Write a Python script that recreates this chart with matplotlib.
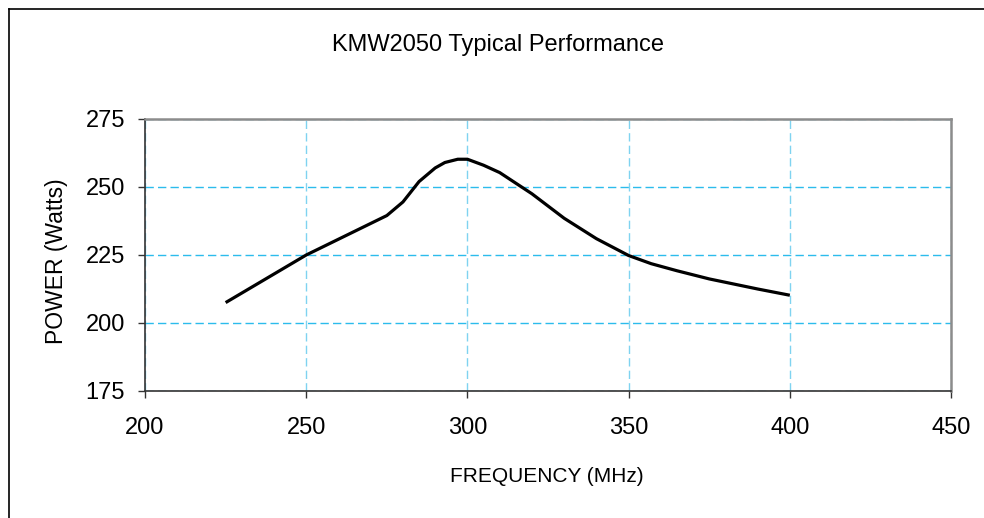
import matplotlib.pyplot as plt
from matplotlib.lines import Line2D

# frequency (MHz) and power (Watts)
freq = [225, 250, 275, 280, 285, 290, 293, 297, 300, 305, 310, 320, 330,
        340, 350, 357, 365, 375, 390, 400]
power = [207.5, 225, 239.5, 244.5, 252, 257, 259, 260.2, 260.2, 258, 255.3,
         247.5, 238.5, 231, 224.8, 221.8, 219.2, 216.2, 212.5, 210.2]

x_ticks = [200, 250, 300, 350, 400, 450]
y_ticks = [175, 200, 225, 250, 275]

label_font = ['Liberation Sans', 'DejaVu Sans']

fig = plt.figure(figsize=(9.84, 5.18), dpi=100)
ax = fig.add_axes([0.1474, 0.2452, 0.8191, 0.5251])

ax.plot(freq, power, color='black', lw=2.3, solid_capstyle='butt')

ax.set_xlim(200, 450)
ax.set_ylim(175, 275)
ax.set_xticks(x_ticks)
ax.set_yticks(y_ticks)
ax.tick_params(labelsize=17, direction='out', length=5, width=1, color='#333333')
ax.tick_params(axis='x', pad=14)
ax.tick_params(axis='y', pad=9.5)
for lab in ax.get_xticklabels() + ax.get_yticklabels():
    lab.set_family('Liberation Sans')

# dashed grid, horizontal lines stronger than the vertical ones
ax.yaxis.grid(True, color='#2CBCEC', lw=1.0, ls=(0, (6, 3)))
ax.xaxis.grid(True, color='#7FD3F0', lw=1.0, ls=(0, (6, 3)))

ax.spines['left'].set_color('#333333')
ax.spines['bottom'].set_color('#333333')
ax.spines['left'].set_linewidth(1.2)
ax.spines['bottom'].set_linewidth(1.2)
ax.spines['top'].set_color('#8C8C8C')
ax.spines['right'].set_color('#8C8C8C')
ax.spines['top'].set_linewidth(1.8)
ax.spines['right'].set_linewidth(1.8)

fig.text(498 / 984, 1 - 45 / 518, 'KMW2050 Typical Performance', ha='center',
         va='center', fontsize=17, family=label_font)
fig.text(547 / 984, 1 - 477 / 518, 'FREQUENCY (MHz)', ha='center', va='center',
         fontsize=15, family=label_font)
fig.text(57 / 984, 1 - 261 / 518, 'POWER (Watts)', ha='center', va='center',
         rotation=90, fontsize=16.5, family=label_font)

# chart area border (only top and left edges fall inside the picture)
fig.add_artist(Line2D([9 / 984, 1.0], [1 - 9 / 518, 1 - 9 / 518],
                      transform=fig.transFigure, color='black', lw=1.2))
fig.add_artist(Line2D([9 / 984, 9 / 984], [0.0, 1 - 9 / 518],
                      transform=fig.transFigure, color='black', lw=1.2))

fig.savefig('out.png', dpi=100)
